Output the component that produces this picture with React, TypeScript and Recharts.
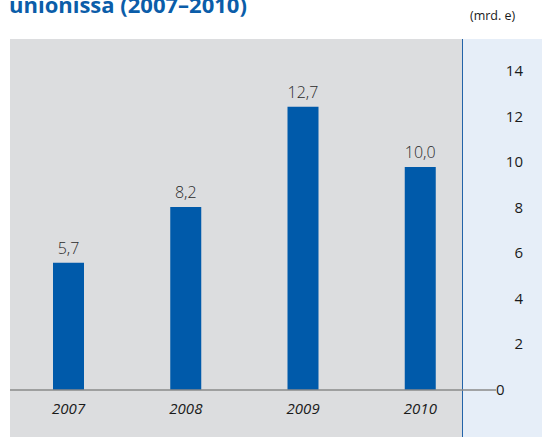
import React from "react";
import { ComposedChart, Bar, Line, XAxis, YAxis, ReferenceLine, LabelList } from "recharts";

// Data
const years = ["2007", "2008", "2009", "2010"];
const amounts = [5.7, 8.2, 12.7, 10.0];
const yTicks = [0, 2, 4, 6, 8, 10, 12, 14];

const chartData = years.map((year, i) => ({ year, value: amounts[i] }));

const FONT = "'Open Sans', 'Noto Sans', sans-serif";
const BLUE = "#005aaa";

const fmt = (v: number) => v.toFixed(1).replace(".", ",");

const YearTick = (props: any) => {
  const { x, y, payload } = props;
  return (
    <text
      x={x}
      y={y}
      dy={16}
      textAnchor="middle"
      fontFamily={FONT}
      fontStyle="italic"
      fontSize={15}
      fill="#1a1a1a"
    >
      {payload.value}
    </text>
  );
};

const ValueTick = (props: any) => {
  const { y, payload } = props;
  const isZero = payload.value === 0;
  return (
    <text
      x={isZero ? 496 : 523}
      y={y}
      dy={5}
      textAnchor={isZero ? "start" : "end"}
      fontFamily={FONT}
      fontSize={15}
      fill="#1a1a1a"
    >
      {payload.value}
    </text>
  );
};

export default function App() {
  return (
    <div
      style={{
        position: "fixed",
        left: 0,
        top: 0,
        width: 542,
        height: 437,
        background: "#fff",
        overflow: "hidden",
        fontFamily: FONT,
      }}
    >
      <div
        style={{
          position: "absolute",
          left: 9,
          top: -11,
          fontSize: 22,
          fontWeight: 700,
          color: "#0b5da9",
          whiteSpace: "nowrap",
        }}
      >
        unionissa (2007–2010)
      </div>
      <div
        style={{
          position: "absolute",
          left: 470,
          top: 7,
          fontSize: 12.5,
          color: "#1a1a1a",
          whiteSpace: "nowrap",
        }}
      >
        (mrd. e)
      </div>
      <div style={{ position: "absolute", left: 10, top: 39, width: 452, height: 398, background: "#dcdddf" }} />
      <div style={{ position: "absolute", left: 463, top: 39, width: 79, height: 398, background: "#e6eef8" }} />
      <div style={{ position: "absolute", left: 461.5, top: 39, width: 1.5, height: 398, background: "#2263a9" }} />
      <div style={{ position: "absolute", left: 0, top: 0 }}>
        <ComposedChart
          width={542}
          height={437}
          data={chartData}
          margin={{ top: 71, right: 0, bottom: 0, left: 10 }}
          barSize={31}
        >
          <XAxis
            dataKey="year"
            height={47}
            axisLine={false}
            tickLine={false}
            padding={{ left: 0, right: 17 }}
            tick={<YearTick />}
            interval={0}
          />
          <YAxis
            yAxisId="scale"
            orientation="right"
            width={46}
            domain={[0, 14]}
            ticks={yTicks}
            axisLine={false}
            tickLine={false}
            tick={<ValueTick />}
            interval={0}
          />
          <YAxis yAxisId="bars" hide domain={[0, 14.3]} />
          <Bar yAxisId="bars" dataKey="value" fill={BLUE} isAnimationActive={false}>
            <LabelList
              dataKey="value"
              position="top"
              offset={9}
              formatter={(v: any) => fmt(Number(v))}
              style={{ fontFamily: FONT, fontSize: 16, fill: "#2a2a2a", fontWeight: 300 }}
            />
          </Bar>
          <Line
            yAxisId="scale"
            dataKey="value"
            stroke="none"
            dot={false}
            activeDot={false}
            legendType="none"
            isAnimationActive={false}
          />
          <ReferenceLine yAxisId="scale" y={0} stroke="#8a8a8a" strokeWidth={1.5} />
        </ComposedChart>
      </div>
    </div>
  );
}
